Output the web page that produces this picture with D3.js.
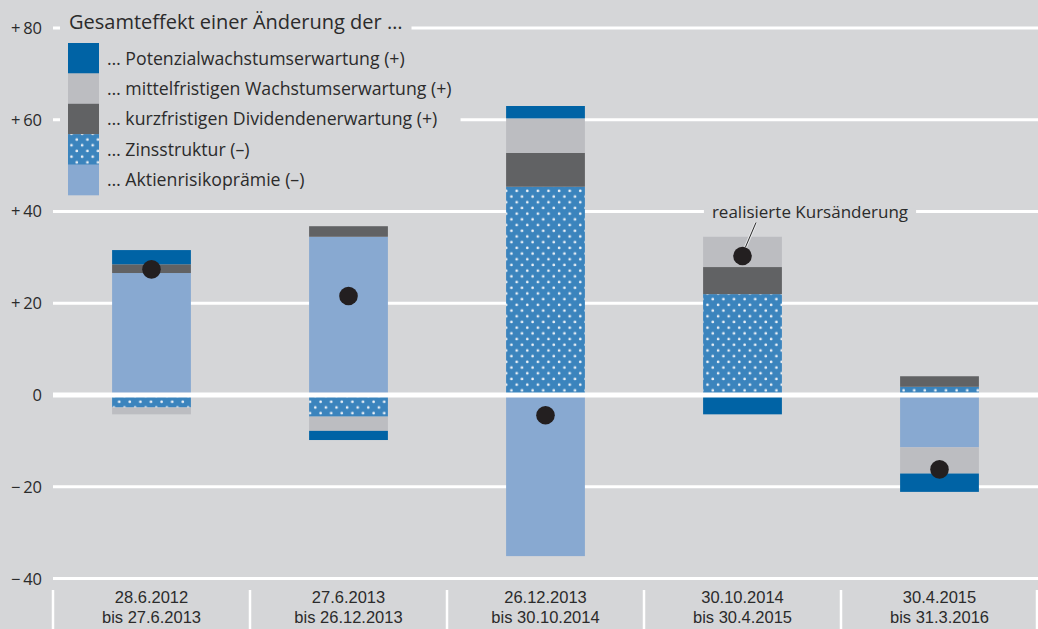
<!DOCTYPE html>
<html>
<head>
<meta charset="utf-8">
<script src="https://cdn.jsdelivr.net/npm/d3@7"></script>
<style>
  html, body { margin: 0; padding: 0; background: #d5d6d8; }
  svg { display: block; }
  text { font-family: "Open Sans", "Noto Sans", sans-serif; fill: #2b2b2b; }
  text.xlab { font-family: "Liberation Sans", Arial, sans-serif; }
</style>
</head>
<body>
<svg id="chart" width="1038" height="629"></svg>
<script>
// ---------- DATA ----------
const categories = ["28.6.2012 bis 27.6.2013", "27.6.2013 bis 26.12.2013", "26.12.2013 bis 30.10.2014", "30.10.2014 bis 30.4.2015", "30.4.2015 bis 31.3.2016"];
const categoryLine1 = ["28.6.2012", "27.6.2013", "26.12.2013", "30.10.2014", "30.4.2015"];
const categoryLine2 = ["bis 27.6.2013", "bis 26.12.2013", "bis 30.10.2014", "bis 30.4.2015", "bis 31.3.2016"];

const aktienrisikopraemie = [26.6, 34.5, -35.1, 0.0, -11.4];
const zinsstruktur = [-2.7, -4.7, 45.4, 22.0, 1.8];
const kurzfristigeDividende = [1.9, 2.3, 7.4, 5.9, 2.3];
const mittelfristigesWachstum = [-1.5, -3.1, 7.5, 6.6, -5.7];
const potenzialwachstum = [3.1, -2.0, 2.7, -4.2, -4.0];
const realisierteKursaenderung = [27.4, 21.6, -4.4, 30.3, -16.2];

const yTicks = [80, 60, 40, 20, 0, -20, -40];
const yTickLabels = ["+\u200980", "+\u200960", "+\u200940", "+\u200920", "0", "\u2212\u200920", "\u2212\u200940"];

const legendTitle = "Gesamteffekt einer Änderung der …";
const legendLabels = ["… Potenzialwachstumserwartung (+)", "… mittelfristigen Wachstumserwartung (+)", "… kurzfristigen Dividendenerwartung (+)", "… Zinsstruktur (–)", "… Aktienrisikoprämie (–)"];
const annotationLabel = "realisierte Kursänderung";

// ---------- SETUP ----------
const W = 1038, H = 629;
const svg = d3.select("#chart");
const bg = "#d5d6d8";
const colors = {
  aktien: "#88a9d1",
  zins: "url(#dots)",
  kurz: "#616264",
  mittel: "#bcbdc1",
  potenzial: "#0063a5"
};
const keys = ["aktien", "zins", "kurz", "mittel", "potenzial"];
const seriesArrays = {
  aktien: aktienrisikopraemie, zins: zinsstruktur, kurz: kurzfristigeDividende,
  mittel: mittelfristigesWachstum, potenzial: potenzialwachstum
};
const rows = categories.map((c, i) => {
  const r = { cat: c };
  keys.forEach(k => r[k] = seriesArrays[k][i]);
  return r;
});

const x = d3.scaleBand().domain(categories).range([53, 1038]).paddingInner(0.6).paddingOuter(0.3);
const y = d3.scaleLinear().domain([-40, 80]).range([578.6, 28]);

const defs = svg.append("defs");
const pat = defs.append("pattern").attr("id", "dots").attr("patternUnits", "userSpaceOnUse")
  .attr("width", 10.6).attr("height", 11.4);
pat.append("rect").attr("width", 10.6).attr("height", 11.4).attr("fill", "#3b84bd");
pat.append("circle").attr("cx", 2.6).attr("cy", 2.8).attr("r", 1.35).attr("fill", "#eef2f7");
pat.append("circle").attr("cx", 7.9).attr("cy", 8.5).attr("r", 1.35).attr("fill", "#eef2f7");

svg.append("rect").attr("width", W).attr("height", H).attr("fill", bg);

// gridlines (non-zero)
svg.append("g").selectAll("line").data(yTicks.filter(d => d !== 0)).join("line")
  .attr("x1", 53).attr("x2", W).attr("y1", d => y(d)).attr("y2", d => y(d))
  .attr("stroke", "#fff").attr("stroke-width", 3);

// bars
const stacked = d3.stack().keys(keys).offset(d3.stackOffsetDiverging)(rows);
svg.append("g").selectAll("g").data(stacked).join("g")
  .attr("fill", d => colors[d.key])
  .selectAll("rect").data(d => d).join("rect")
  .attr("x", d => x(d.data.cat))
  .attr("width", x.bandwidth())
  .attr("y", d => y(Math.max(d[0], d[1])))
  .attr("height", d => Math.abs(y(d[0]) - y(d[1])));

// zero line
svg.append("line").attr("x1", 53).attr("x2", W).attr("y1", y(0)).attr("y2", y(0))
  .attr("stroke", "#fff").attr("stroke-width", 5);

// realised dots
svg.append("g").selectAll("circle").data(realisierteKursaenderung).join("circle")
  .attr("cx", (d, i) => x(categories[i]) + x.bandwidth() / 2)
  .attr("cy", d => y(d)).attr("r", 9.3).attr("fill", "#231f20");

// y labels
svg.append("g").selectAll("text").data(yTicks).join("text")
  .attr("x", 42).attr("y", d => y(d)).attr("dy", "0.36em")
  .attr("text-anchor", "end").attr("font-size", 16.5)
  .text((d, i) => yTickLabels[i]);

// legend
const lg = svg.append("g");
const legendBgTitle = lg.append("rect").attr("fill", bg);
const legendBgItems = lg.append("rect").attr("fill", bg);
const titleText = lg.append("text").attr("x", 69).attr("y", 28.5).attr("font-size", 20).text(legendTitle);
const rowH = 30.4, swTop = 43;
const legendColors = [colors.potenzial, colors.mittel, colors.kurz, colors.zins, colors.aktien];
lg.selectAll("rect.sw").data(legendColors).join("rect").attr("class", "sw")
  .attr("x", 68).attr("y", (d, i) => swTop + i * rowH).attr("width", 31).attr("height", rowH + 0.3)
  .attr("fill", d => d);
const labels = lg.selectAll("text.lab").data(legendLabels).join("text").attr("class", "lab")
  .attr("x", 107).attr("y", (d, i) => swTop + i * rowH + rowH / 2).attr("dy", "0.36em")
  .attr("font-size", 17.7).text(d => d);
const tb = titleText.node().getBBox();
legendBgTitle.attr("x", 60).attr("y", 14).attr("width", tb.x + tb.width + 9 - 60).attr("height", 20);
let maxW = 0; labels.each(function () { maxW = Math.max(maxW, this.getBBox().x + this.getBBox().width); });
legendBgItems.attr("x", 60).attr("y", 38).attr("width", maxW + 9 - 60).attr("height", 165);

// annotation
const ann = svg.append("g");
const annBg = ann.append("rect").attr("fill", bg);
const annText = ann.append("text").attr("x", 810).attr("y", y(40)).attr("dy", "0.36em")
  .attr("text-anchor", "middle").attr("font-size", 17).text(annotationLabel);
const ab = annText.node().getBBox();
annBg.attr("x", ab.x - 8).attr("y", y(40) - 3).attr("width", ab.width + 16).attr("height", 6);
const dotX = x(categories[3]) + x.bandwidth() / 2, dotY = y(realisierteKursaenderung[3]);
ann.append("line").attr("x1", 756).attr("y1", y(40) + 11).attr("x2", dotX + 3).attr("y2", dotY - 9)
  .attr("stroke", "#e6e7e9").attr("stroke-width", 3);
ann.append("line").attr("x1", 756).attr("y1", y(40) + 11).attr("x2", dotX + 3).attr("y2", dotY - 9)
  .attr("stroke", "#2b2b2b").attr("stroke-width", 1);

// x-axis separators and labels
const seps = categories.map(c => x(c) - x.step() * 0.3).concat([W - 1]);
svg.append("g").selectAll("line").data(seps).join("line")
  .attr("x1", d => d).attr("x2", d => d).attr("y1", 590).attr("y2", H)
  .attr("stroke", "#fff").attr("stroke-width", 2.5);
const xl = svg.append("g").selectAll("g").data(categories).join("g");
xl.append("text").attr("class", "xlab").attr("text-anchor", "middle").attr("font-size", 16.5)
  .attr("x", d => x(d) + x.bandwidth() / 2).attr("y", 597.5).attr("dy", "0.35em")
  .text((d, i) => categoryLine1[i]);
xl.append("text").attr("class", "xlab").attr("text-anchor", "middle").attr("font-size", 16.5)
  .attr("x", d => x(d) + x.bandwidth() / 2).attr("y", 617).attr("dy", "0.35em")
  .text((d, i) => categoryLine2[i]);
</script>
</body>
</html>
